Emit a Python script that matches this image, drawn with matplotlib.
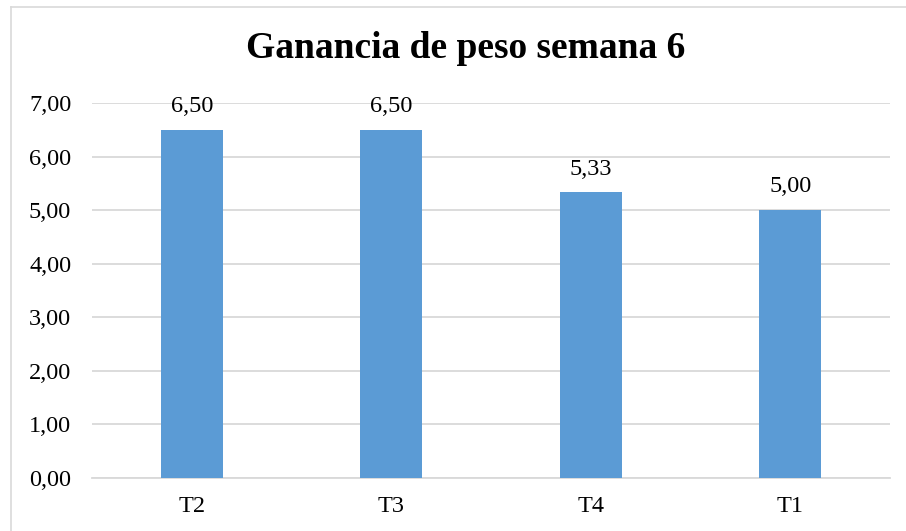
import matplotlib.pyplot as plt
from matplotlib.lines import Line2D

categories = ['T2', 'T3', 'T4', 'T1']
values = [6.50, 6.50, 5.33, 5.00]
labels = ['6,50', '6,50', '5,33', '5,00']
yticks = [0, 1, 2, 3, 4, 5, 6, 7]

plt.rcParams['font.family'] = ['Liberation Serif', 'DejaVu Serif']

fig = plt.figure(figsize=(9.06, 5.31), dpi=100)
W, H = 906, 531
ax = fig.add_axes([92 / W, 1 - 478 / H, (890 - 92) / W, (478 - 103) / H])

x = range(len(categories))
bars = ax.bar(x, values, width=0.31, color='#5b9bd5', zorder=3)
for b, lab in zip(bars, labels):
    ax.text(b.get_x() + b.get_width() / 2, b.get_height() + 0.33, lab,
            ha='center', va='baseline', fontsize=17.5)

ax.set_xlim(-0.5, len(categories) - 0.5)
ax.set_ylim(0, 7)
ax.set_yticks(yticks)
ax.set_yticklabels([f'{v:.2f}'.replace('.', ',') for v in yticks], fontsize=17.5)
ax.set_xticks(list(x))
ax.set_xticklabels(categories, fontsize=17.5)
ax.grid(axis='y', color='#d9d9d9', linewidth=1.3, zorder=0)
ax.tick_params(axis='y', length=0, pad=15)
ax.tick_params(axis='x', length=0, pad=13)
for side in ['top', 'right', 'left']:
    ax.spines[side].set_visible(False)
ax.spines['bottom'].set_color('#d9d9d9')
ax.spines['bottom'].set_linewidth(1.3)

fig.text(466 / W, 1 - 49 / H, 'Ganancia de peso semana 6', ha='center', va='center',
         fontsize=27, fontweight='bold')

# chart border (top and left visible)
fig.add_artist(Line2D([11 / W, 1.0], [1 - 6.5 / H, 1 - 6.5 / H], color='#d9d9d9', lw=1.2))
fig.add_artist(Line2D([11 / W, 11 / W], [0, 1 - 6.5 / H], color='#d9d9d9', lw=1.2))

fig.savefig('out.png', dpi=100)
